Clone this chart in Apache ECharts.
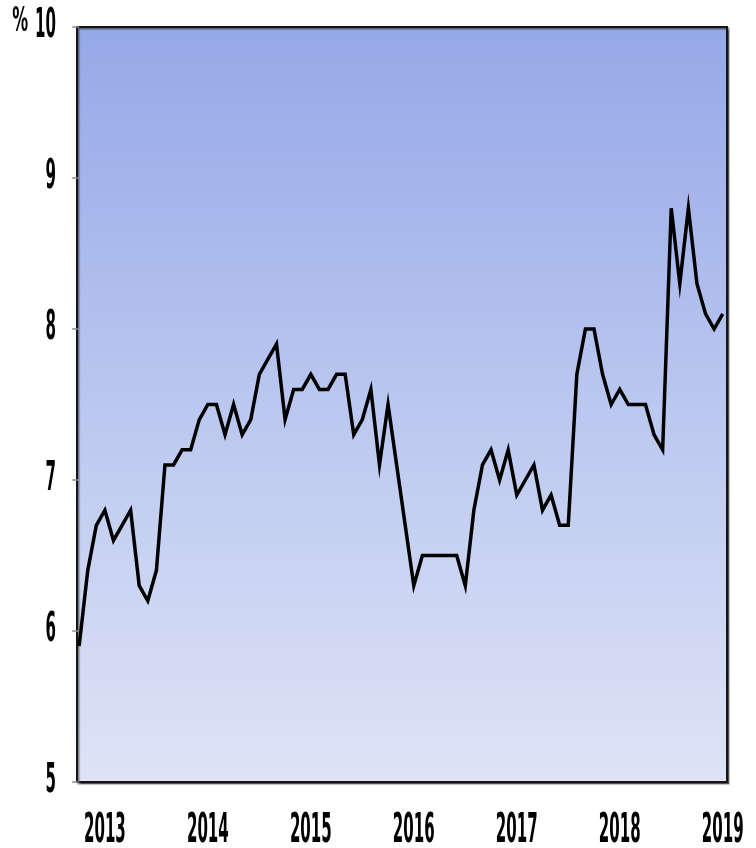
<!DOCTYPE html>
<html>
<head>
<meta charset="utf-8">
<style>
  html, body { margin: 0; padding: 0; background: #ffffff; }
  #chart { width: 756px; height: 848px; }
</style>
<script src="https://cdn.jsdelivr.net/npm/echarts@6/dist/echarts.min.js"></script>
</head>
<body>
<div id="chart"></div>
<script>
// Monthly rate, October 2012 to January 2019 (percent)
const firstMonth = { year: 2012, month: 10 };
const rateValues = [
  5.9, 6.4, 6.7,                                              // 2012 Oct-Dec
  6.8, 6.6, 6.7, 6.8, 6.3, 6.2, 6.4, 7.1, 7.1, 7.2, 7.2, 7.4, // 2013
  7.5, 7.5, 7.3, 7.5, 7.3, 7.4, 7.7, 7.8, 7.9, 7.4, 7.6, 7.6, // 2014
  7.7, 7.6, 7.6, 7.7, 7.7, 7.3, 7.4, 7.6, 7.1, 7.5, 7.1, 6.7, // 2015
  6.3, 6.5, 6.5, 6.5, 6.5, 6.5, 6.3, 6.8, 7.1, 7.2, 7.0, 7.2, // 2016
  6.9, 7.0, 7.1, 6.8, 6.9, 6.7, 6.7, 7.7, 8.0, 8.0, 7.7, 7.5, // 2017
  7.6, 7.5, 7.5, 7.5, 7.3, 7.2, 8.8, 8.3, 8.8, 8.3, 8.1, 8.0, // 2018
  8.1                                                         // 2019 Jan
];
const yearLabels = ['2013', '2014', '2015', '2016', '2017', '2018', '2019'];
const yTickValues = [5, 6, 7, 8, 9, 10];
const unitLabel = '%';

// Month labels for each point, e.g. "2012-10"
const monthLabels = rateValues.map((_, i) => {
  const m = firstMonth.month - 1 + i;
  const y = firstMonth.year + Math.floor(m / 12);
  return y + '-' + String((m % 12) + 1).padStart(2, '0');
});
// Position of January of each labelled year
const yearIndex = yearLabels.map(y => monthLabels.indexOf(y + '-01'));

const labelFont = 'bold 22px "DejaVu Sans Condensed", "Liberation Sans Narrow", sans-serif';

const chart = echarts.init(document.getElementById('chart'), null, { renderer: 'canvas' });

chart.setOption({
  animation: false,
  backgroundColor: '#ffffff',
  grid: {
    left: 77, top: 27, width: 650, height: 755,
    show: true,
    borderColor: '#151515',
    borderWidth: 2,
    shadowColor: 'rgba(0,0,0,0.45)',
    shadowOffsetX: 1.5,
    shadowOffsetY: 1.5,
    shadowBlur: 1,
    backgroundColor: {
      type: 'linear', x: 0, y: 0, x2: 0, y2: 1,
      colorStops: [
        { offset: 0, color: '#95a8e8' },
        { offset: 0.5, color: '#bac7ef' },
        { offset: 1, color: '#dee3f6' }
      ]
    }
  },
  xAxis: {
    type: 'value',
    min: -0.25,
    max: 75.5,
    axisLine: { show: false },
    axisTick: { show: false },
    axisLabel: { show: false },
    splitLine: { show: false }
  },
  yAxis: {
    type: 'value',
    min: 5,
    max: 10,
    interval: 1,
    axisLine: { show: false },
    axisTick: { show: true, inside: false, length: 7, lineStyle: { color: '#8a8a8a', width: 1.5 } },
    axisLabel: { show: false },
    splitLine: { show: false }
  },
  series: [{
    type: 'line',
    data: rateValues.map((v, i) => [i, v]),
    showSymbol: false,
    symbol: 'none',
    lineStyle: { color: '#000000', width: 3.5, join: 'miter' },
    z: 3
  }]
});

// Tall condensed axis labels, placed through the chart's own coordinate system
const labelScaleX = 0.76;
const labelScaleY = 1.82;
const texts = [];
yTickValues.forEach(v => {
  const p = chart.convertToPixel({ gridIndex: 0 }, [-0.25, v]);
  texts.push({
    type: 'text',
    x: p[0] - 21,
    y: p[1],
    scaleX: labelScaleX,
    scaleY: labelScaleY,
    style: {
      text: String(v),
      font: labelFont,
      fill: '#000000',
      align: 'right',
      verticalAlign: 'middle'
    }
  });
});
const topPt = chart.convertToPixel({ gridIndex: 0 }, [-0.25, 10]);
texts.push({
  type: 'text',
  x: topPt[0] - 49,
  y: topPt[1] - 5,
  scaleX: 0.8,
  scaleY: 1.55,
  style: {
    text: unitLabel,
    font: labelFont,
    fill: '#000000',
    align: 'right',
    verticalAlign: 'middle'
  }
});
yearLabels.forEach((label, k) => {
  const p = chart.convertToPixel({ gridIndex: 0 }, [yearIndex[k], 5]);
  texts.push({
    type: 'text',
    x: p[0],
    y: p[1] + 50,
    scaleX: labelScaleX,
    scaleY: labelScaleY,
    style: {
      text: label,
      font: labelFont,
      fill: '#000000',
      align: 'center',
      verticalAlign: 'middle'
    }
  });
});
chart.setOption({ graphic: { elements: texts } });
</script>
</body>
</html>
